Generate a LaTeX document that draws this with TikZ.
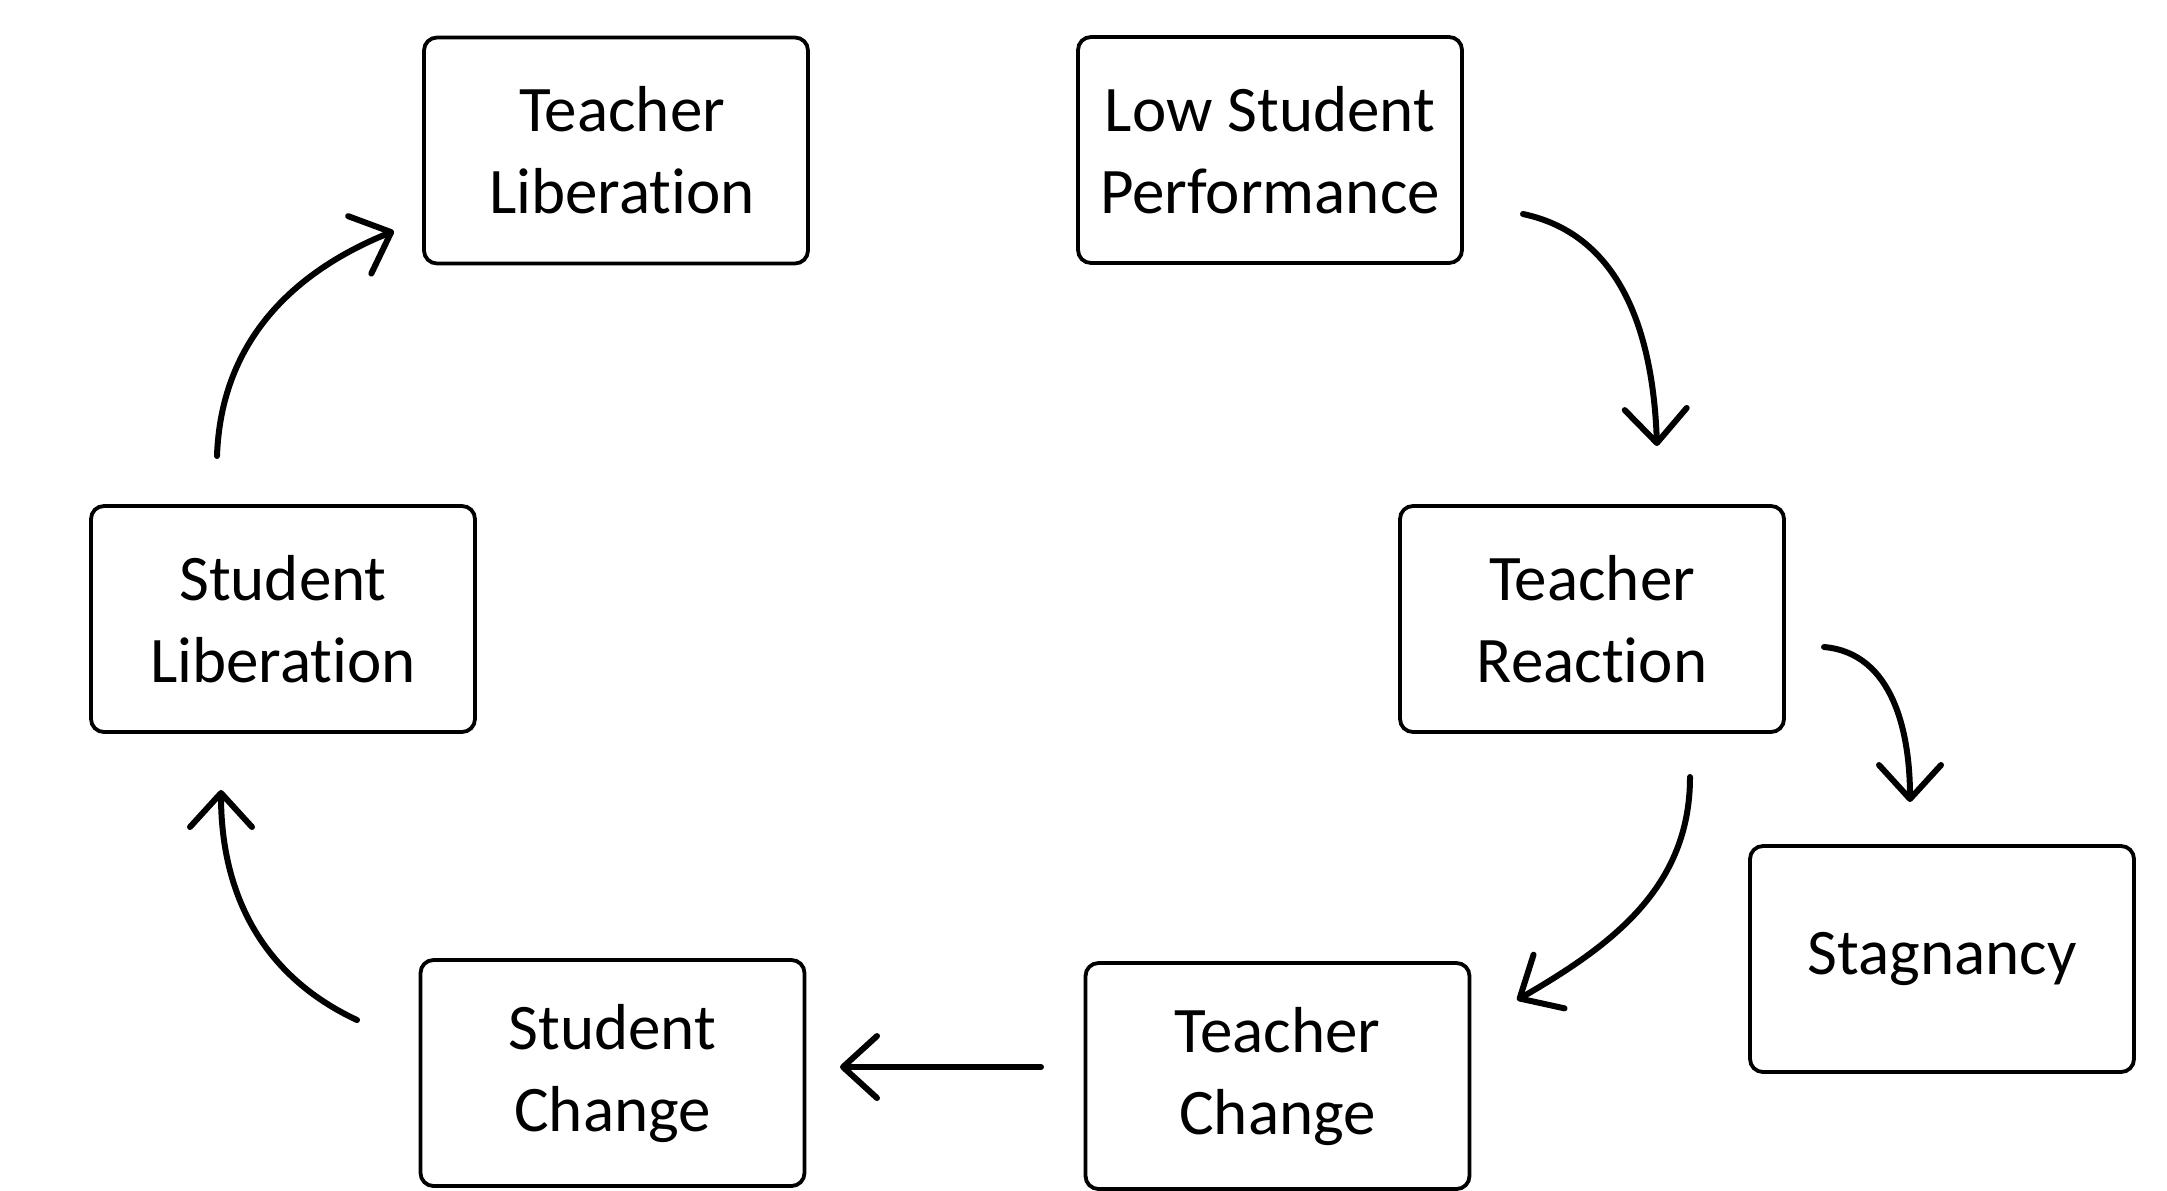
\documentclass[tikz,border=0pt]{standalone}
\usepackage{fontspec}
\setmainfont{Carlito}[Ligatures={NoCommon,NoContextual}]
\usetikzlibrary{arrows.meta}
\begin{document}
\begin{tikzpicture}[x=0.5pt,y=-0.5pt,
  box/.style={draw, line width=1.9pt, rounded corners=6.5pt, minimum width=192pt,
    minimum height=113pt, inner sep=0pt, align=center,
    font=\fontsize{32.5}{41}\selectfont},
  flow/.style={line width=3pt, line cap=round,
    -{Straight Barb[length=17pt,width=31pt,round]}}]
\useasboundingbox (0,0) rectangle (2167,1190);
% boxes
\node[box] (tl)  at (616,150.5)  {\hspace*{6pt}Teacher\\\hspace*{6pt}Liberation};
\node[box] (lsp) at (1270,150)   {Low Student\\Performance};
\node[box] (tr)  at (1592,619)   {Teacher\\Reaction};
\node[box] (stg) at (1942,959)   {Stagnancy};
\node[box] (tc)  at (1277.5,1076){Teacher\\Change};
\node[box] (sc)  at (612.5,1073) {Student\\Change};
\node[box] (sl)  at (283,619)    {Student\\Liberation};
% connector ends
\coordinate (a1s) at (1523,214);  \coordinate (a1e) at (1657,446);
\coordinate (a2s) at (1824,647);  \coordinate (a2e) at (1910,802);
\coordinate (a3s) at (1690,777);  \coordinate (a3e) at (1517,1000);
\coordinate (a4s) at (1041,1067); \coordinate (a4e) at (840,1067);
\coordinate (a5s) at (357,1020);  \coordinate (a5e) at (221,790);
\coordinate (a6s) at (217,456);   \coordinate (a6e) at (394,231);
% connectors
\draw[flow] (a1s) to[out=-12,in=92] (a1e);
\draw[flow] (a2s) to[out=-5,in=90] (a2e);
\draw[flow] (a3s) to[out=-90,in=30] (a3e);
\draw[flow] (a4s) -- (a4e);
\draw[flow] (a5s) to[out=155,in=-90] (a5e);
\draw[flow] (a6s) to[out=88,in=202] (a6e);
\end{tikzpicture}
\end{document}
